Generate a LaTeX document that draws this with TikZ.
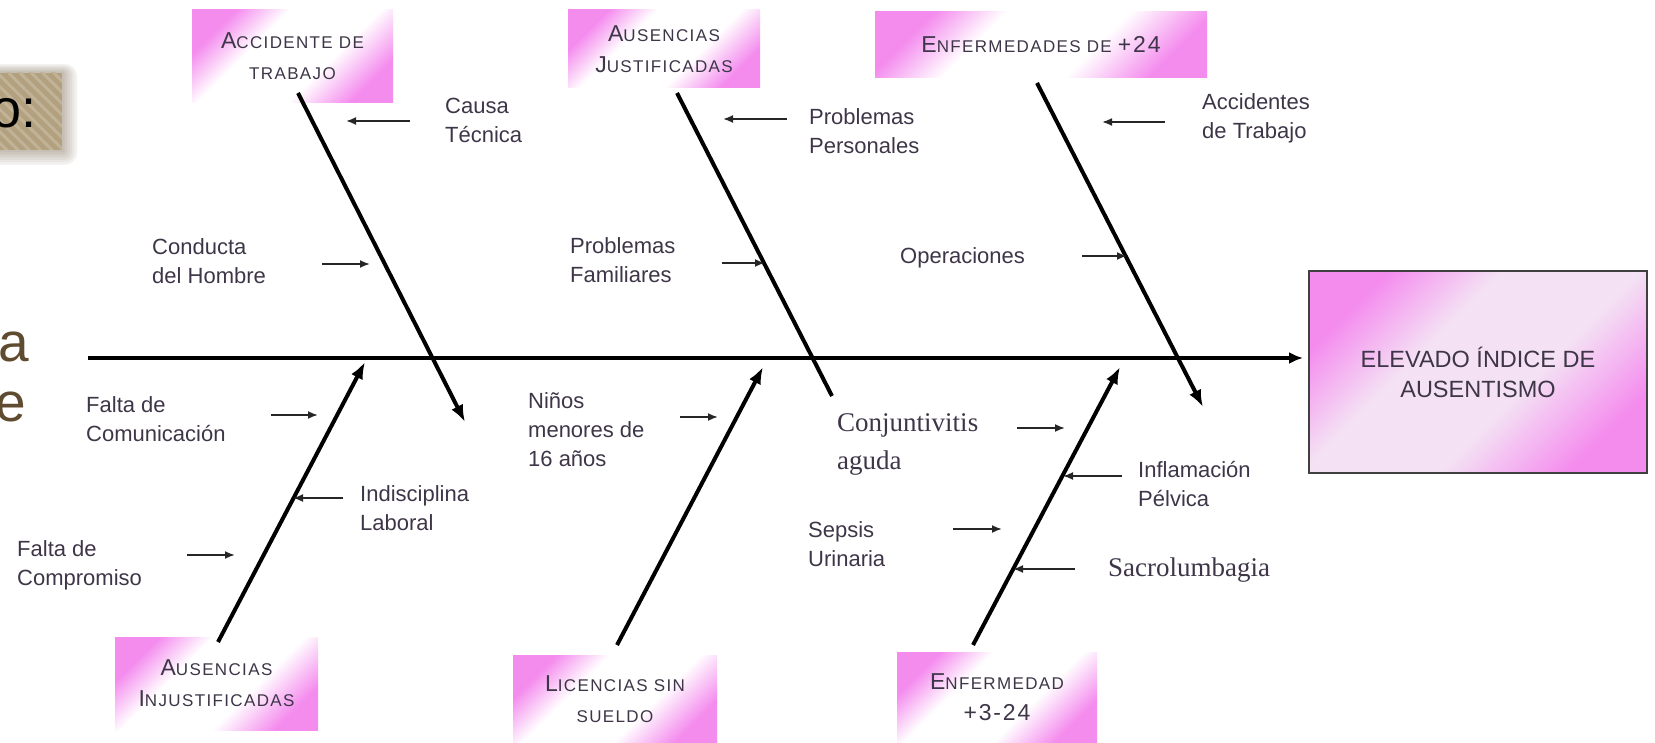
\documentclass[tikz,border=0pt]{standalone}
\usepackage{fontspec}
\setmainfont{Liberation Sans}
\newfontfamily\serifx{Liberation Serif}
\newfontfamily\capsx[LetterSpace=8]{Liberation Sans}
\usetikzlibrary{arrows.meta,patterns.meta}

\definecolor{pinkc}{RGB}{244,140,238}
\definecolor{palec}{RGB}{244,226,244}
\definecolor{inkc}{RGB}{62,54,72}
\definecolor{tanc}{RGB}{178,160,126}
\definecolor{brownc}{RGB}{94,75,48}

\pgfdeclareverticalshading{pinkfade}{100bp}{color(0bp)=(pinkc); color(25bp)=(pinkc);
  color(40bp)=(white); color(62bp)=(white); color(75bp)=(pinkc); color(100bp)=(pinkc)}
\pgfdeclareverticalshading{pinkfadeb}{100bp}{color(0bp)=(pinkc); color(25bp)=(pinkc);
  color(42bp)=(palec); color(60bp)=(palec); color(75bp)=(pinkc); color(100bp)=(pinkc)}

% first letter large, the rest as small capitals
\newcommand{\capword}[2]{{\fontsize{23}{31}\selectfont #1}#2}

\begin{document}
\begin{tikzpicture}
  [x=1pt,y=-1pt,
   category/.style={shade,shading=pinkfade,shading angle=45,inner sep=0pt,
                    align=center,text=inkc,
                    font=\capsx\fontsize{17}{31}\selectfont},
   cause/.style={anchor=west,inner sep=0pt,align=left,text=inkc,
                 font=\fontsize{22}{29}\selectfont},
   causeserif/.style={cause,font=\serifx\fontsize{27}{38}\selectfont},
   bone/.style={line width=4pt,-{Latex[length=17pt,width=13pt]}},
   twig/.style={line width=1.8pt,draw=black!85,-{Latex[length=10pt,width=8pt]}}]
  \useasboundingbox (0,0) rectangle (1655,743);

  % slide remnants at the left edge
  \foreach \i in {1,...,6}
    \fill[brownc,opacity=0.07,rounded corners=2*\i pt]
      (-20,73-1.5*\i) rectangle (62+2.5*\i,150+2.5*\i);
  \fill[tanc] (-20,73) rectangle (62,150);
  \fill[pattern={Lines[angle=-45,distance=8pt,line width=3pt]},
        pattern color=tanc!80!white] (-20,73) rectangle (62,150);
  \node[anchor=base east,inner sep=0pt,font=\fontsize{54}{54}\selectfont]
    (slideo) at (37,128) {o:};
  \node[anchor=base east,inner sep=0pt,text=brownc,font=\fontsize{55}{55}\selectfont]
    (slidea) at (29,361) {a};
  \node[anchor=base east,inner sep=0pt,text=brownc,font=\fontsize{55}{55}\selectfont]
    (slidee) at (26,421) {e};

  % effect
  \node[shade,shading=pinkfadeb,shading angle=45,
        draw=black!75,line width=1.5pt,minimum width=338pt,minimum height=202pt,
        align=center,text=inkc,font=\fontsize{23.5}{30}\selectfont]
    (effect) at (1478,372) {ELEVADO ÍNDICE DE\\AUSENTISMO};

  % categories
  \node[category,minimum width=201pt,minimum height=93pt] (acc)    at (292.5,56.5)
    {\capword{A}{CCIDENTE DE}\\TRABAJO};
  \node[category,minimum width=192pt,minimum height=78pt] (ausj)   at (664,49)
    {\capword{A}{USENCIAS}\\\capword{J}{USTIFICADAS}};
  \node[category,minimum width=332pt,minimum height=66pt] (enf24)  at (1041,45)
    {\capword{E}{NFERMEDADES DE }\capword{+24}{}};
  \node[category,minimum width=203pt,minimum height=93pt] (ausinj) at (216.5,683.5)
    {\capword{A}{USENCIAS}\\\capword{I}{NJUSTIFICADAS}};
  \node[category,minimum width=204pt,minimum height=88pt] (lic)    at (615,699)
    {\capword{L}{ICENCIAS SIN}\\SUELDO};
  \node[category,minimum width=200pt,minimum height=91pt] (enf324) at (997,697.5)
    {\capword{E}{NFERMEDAD}\\\capword{+3-24}{}};

  % spine and bones
  \coordinate (spineL) at (88,358);
  \coordinate (spineR) at (1303,358);
  \draw[line width=4pt,-{Latex[length=14pt,width=12pt]}] (spineL) -- (spineR);

  \coordinate (accS)    at (298,93);   \coordinate (accE)    at (465,422);
  \coordinate (ausjS)   at (677,93);   \coordinate (ausjE)   at (832,396);
  \coordinate (enf24S)  at (1037,83);  \coordinate (enf24E)  at (1203,407);
  \coordinate (ausinjS) at (218,642);  \coordinate (ausinjE) at (365,362);
  \coordinate (licS)    at (617,645);  \coordinate (licE)    at (763,367);
  \coordinate (enf324S) at (973,645);  \coordinate (enf324E) at (1120,367);
  \draw[bone]   (accS) -- (accE);
  \draw[bone,-] (ausjS) -- (ausjE);
  \draw[bone]   (enf24S) -- (enf24E);
  \draw[bone]   (ausinjS) -- (ausinjE);
  \draw[bone]   (licS) -- (licE);
  \draw[bone]   (enf324S) -- (enf324E);

  % causes
  \node[cause] (causa)    at (445,120)  {Causa\\Técnica};
  \node[cause] (conducta) at (152,261)  {Conducta\\del Hombre};
  \node[cause] (perso)    at (809,131)  {Problemas\\Personales};
  \node[cause] (fami)     at (570,260)  {Problemas\\Familiares};
  \node[cause] (acctrab)  at (1202,118) {Accidentes\\de Trabajo};
  \node[cause] (oper)     at (900,258)  {Operaciones};
  \node[cause] (comun)    at (86,419)   {Falta de\\Comunicación};
  \node[cause] (indis)    at (360,508)  {Indisciplina\\Laboral};
  \node[cause] (compro)   at (17,565)   {Falta de\\Compromiso};
  \node[cause] (ninos)    at (528,430)  {Niños\\menores de\\16 años};
  \node[causeserif] (conj) at (837,444) {Conjuntivitis\\aguda};
  \node[cause] (infl)     at (1138,484) {Inflamación\\Pélvica};
  \node[cause] (sepsis)   at (808,544)  {Sepsis\\Urinaria};
  \node[causeserif] (sacro) at (1108,570) {Sacrolumbagia};

  % small arrows
  \coordinate (causaT) at (410,121);  \coordinate (causaH) at (346,121);
  \coordinate (condT)  at (322,264);  \coordinate (condH)  at (370,264);
  \coordinate (persoT) at (787,119);  \coordinate (persoH) at (723,119);
  \coordinate (famiT)  at (722,263);  \coordinate (famiH)  at (765,263);
  \coordinate (acctT)  at (1165,122); \coordinate (acctH)  at (1102,122);
  \coordinate (operT)  at (1082,256); \coordinate (operH)  at (1127,256);
  \coordinate (comunT) at (271,415);  \coordinate (comunH) at (318,415);
  \coordinate (indisT) at (343,498);  \coordinate (indisH) at (293,498);
  \coordinate (compT)  at (187,555);  \coordinate (compH)  at (235,555);
  \coordinate (ninosT) at (680,417);  \coordinate (ninosH) at (718,417);
  \coordinate (conjT)  at (1017,428); \coordinate (conjH)  at (1065,428);
  \coordinate (inflT)  at (1122,476); \coordinate (inflH)  at (1063,476);
  \coordinate (sepT)   at (953,529);  \coordinate (sepH)   at (1002,529);
  \coordinate (sacroT) at (1075,569); \coordinate (sacroH) at (1013,569);
  \draw[twig] (causaT) -- (causaH);
  \draw[twig] (condT) -- (condH);
  \draw[twig] (persoT) -- (persoH);
  \draw[twig] (famiT) -- (famiH);
  \draw[twig] (acctT) -- (acctH);
  \draw[twig] (operT) -- (operH);
  \draw[twig] (comunT) -- (comunH);
  \draw[twig] (indisT) -- (indisH);
  \draw[twig] (compT) -- (compH);
  \draw[twig] (ninosT) -- (ninosH);
  \draw[twig] (conjT) -- (conjH);
  \draw[twig] (inflT) -- (inflH);
  \draw[twig] (sepT) -- (sepH);
  \draw[twig] (sacroT) -- (sacroH);
\end{tikzpicture}
\end{document}
